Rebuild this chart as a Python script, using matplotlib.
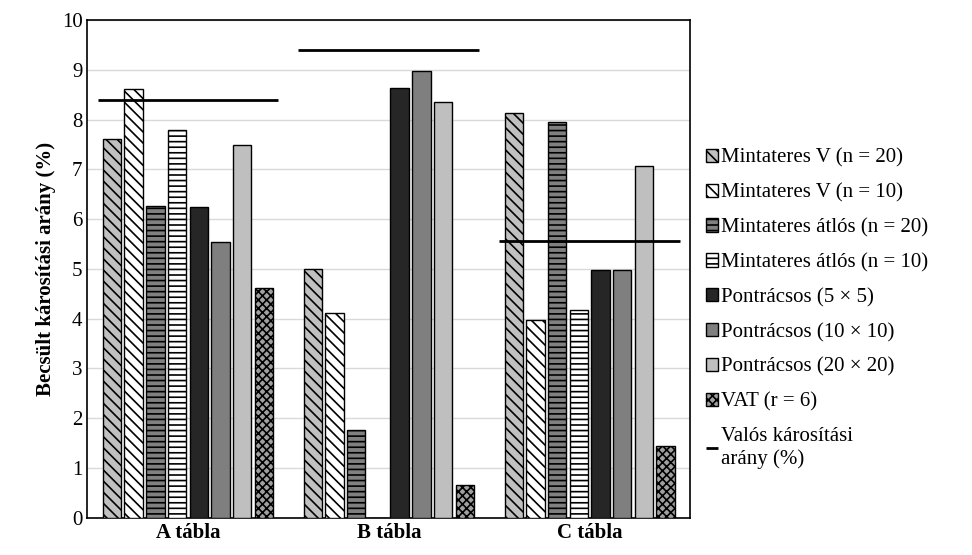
import matplotlib
matplotlib.use("Agg")
import matplotlib.pyplot as plt
import numpy as np

plt.rcParams["font.family"] = ["Liberation Serif", "DejaVu Serif"]
plt.rcParams["hatch.linewidth"] = 1.2

groups = ["A tábla", "B tábla", "C tábla"]
series = ["Mintateres V (n = 20)", "Mintateres V (n = 10)", "Mintateres átlós (n = 20)",
          "Mintateres átlós (n = 10)", "Pontrácsos (5 × 5)", "Pontrácsos (10 × 10)",
          "Pontrácsos (20 × 20)", "VAT (r = 6)"]
values = [
    [7.60, 5.00, 8.13],
    [8.62, 4.12, 3.97],
    [6.27, 1.77, 7.95],
    [7.78, 0.00, 4.17],
    [6.24, 8.63, 4.97],
    [5.55, 8.97, 4.97],
    [7.48, 8.35, 7.07],
    [4.62, 0.65, 1.45],
]
true_rate = [8.4, 9.4, 5.57]
true_label = "Valós károsítási\narány (%)"

faces = ["#c0c0c0", "white", "#808080", "white", "#262626", "#7f7f7f", "#bfbfbf", "#a0a0a0"]
hatches = ["\\\\\\", "\\\\\\", "---", "---", "", "", "", "xxxx"]

fig = plt.figure(figsize=(9.72, 5.55), dpi=100)
ax = fig.add_axes([0.09, 0.067, 0.62, 0.897])
x = np.arange(len(groups))
w = 0.108
handles = []
for i, (lab, vals) in enumerate(zip(series, values)):
    b = ax.bar(x + (i - 3.5) * w, vals, w * 0.85, label=lab, color=faces[i],
               hatch=hatches[i], edgecolor="black", linewidth=1.0, zorder=3)
    handles.append(b)
ln = ax.hlines(true_rate, x - 0.45, x + 0.45, color="black", linewidth=2, zorder=4,
               label=true_label)
handles.append(ln)
ax.set_xlim(-0.5, 2.5)
ax.set_ylim(0, 10)
ax.set_yticks(range(11))
ax.set_xticks(x)
ax.set_xticklabels(groups, fontweight="bold", fontsize=15)
ax.tick_params(axis="y", labelsize=15, length=0)
ax.tick_params(axis="x", length=0)
ax.grid(axis="y", color="#d9d9d9", linewidth=1, zorder=0)
for s in ax.spines.values():
    s.set_linewidth(1.2)
ax.set_ylabel("Becsült károsítási arány (%)", fontsize=15, fontweight="bold")
ax.legend(handles=handles, loc="center left", bbox_to_anchor=(0.995, 0.42), frameon=False,
          fontsize=15, handlelength=0.6, handleheight=0.6, handletextpad=0.15,
          labelspacing=0.75)
fig.savefig("out.png", dpi=100)
